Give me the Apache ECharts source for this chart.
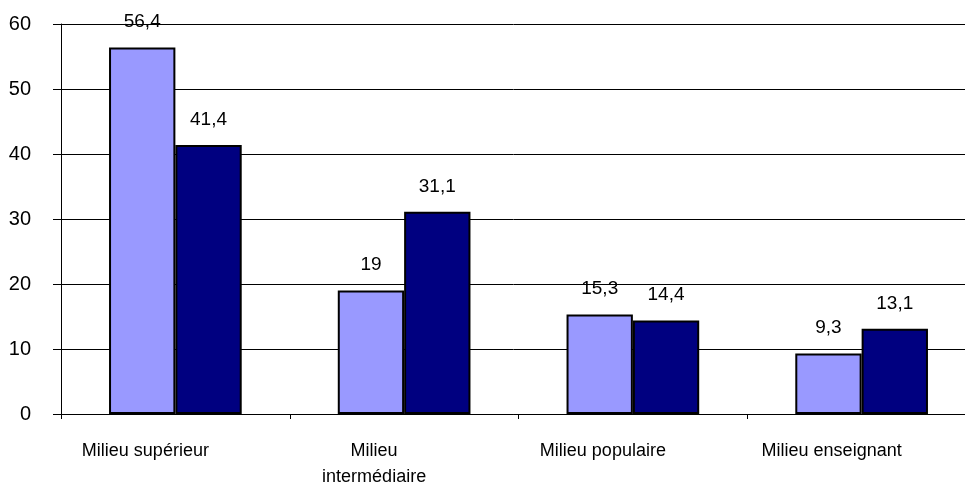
<!DOCTYPE html>
<html>
<head>
<meta charset="utf-8">
<script src="https://cdn.jsdelivr.net/npm/echarts@6/dist/echarts.min.js"></script>
<style>
  html, body { margin: 0; padding: 0; background: #fff; }
  #chart { width: 965px; height: 485px; }
</style>
</head>
<body>
<div id="chart"></div>
<script>
// données
const categories = ['Milieu supérieur', 'Milieu intermédiaire', 'Milieu populaire', 'Milieu enseignant'];
const serieClaire = [56.4, 19, 15.3, 9.3];
const serieFoncee = [41.4, 31.1, 14.4, 13.1];
const yTicks = [0, 10, 20, 30, 40, 50, 60];

const chart = echarts.init(document.getElementById('chart'));

const fontFamily = '"Liberation Sans", Arial, sans-serif';
// étiquette avec virgule décimale
const labelFormat = p => String(p.value).replace('.', ',');

const barLabel = {
  show: true,
  position: 'top',
  distance: 16,
  color: '#000',
  fontSize: 19,
  letterSpacing: -0.6,
  fontFamily: fontFamily,
  formatter: labelFormat
};

const option = {
  animation: false,
  backgroundColor: '#fff',
  grid: { left: 61, right: -11, top: 24, bottom: 71, outerBoundsMode: 'none', containLabel: false },
  xAxis: {
    type: 'category',
    data: categories,
    axisLine: { lineStyle: { color: '#000', width: 1 } },
    axisTick: { show: true, length: 5, inside: false, lineStyle: { color: '#000' } },
    axisLabel: {
      margin: 24,
      color: '#000',
      fontSize: 18,
      letterSpacing: -0.8,
      fontFamily: fontFamily,
      lineHeight: 26,
      interval: 0,
      // les libellés sont décalés vers la gauche dans l'original
      padding: [0, 60, 0, 0],
      // "Milieu intermédiaire" passe sur deux lignes
      formatter: v => v === 'Milieu intermédiaire' ? 'Milieu\nintermédiaire' : v
    }
  },
  yAxis: {
    type: 'value',
    min: yTicks[0],
    max: yTicks[yTicks.length - 1],
    interval: 10,
    axisLine: { show: true, lineStyle: { color: '#000', width: 1 } },
    axisTick: { show: true, length: 8, lineStyle: { color: '#000' } },
    splitLine: { show: true, lineStyle: { color: '#000', width: 1 } },
    axisLabel: {
      margin: 30,
      color: '#000',
      fontSize: 20,
      letterSpacing: -0.6,
      fontFamily: fontFamily
    }
  },
  series: [
    {
      type: 'bar',
      data: serieClaire,
      barGap: '0%',
      barCategoryGap: '42%',
      itemStyle: { color: '#9999FF', borderColor: '#000', borderWidth: 2 },
      label: barLabel
    },
    {
      type: 'bar',
      data: serieFoncee,
      itemStyle: { color: '#000080', borderColor: '#000', borderWidth: 2 },
      label: barLabel
    }
  ]
};

chart.setOption(option);
</script>
</body>
</html>
